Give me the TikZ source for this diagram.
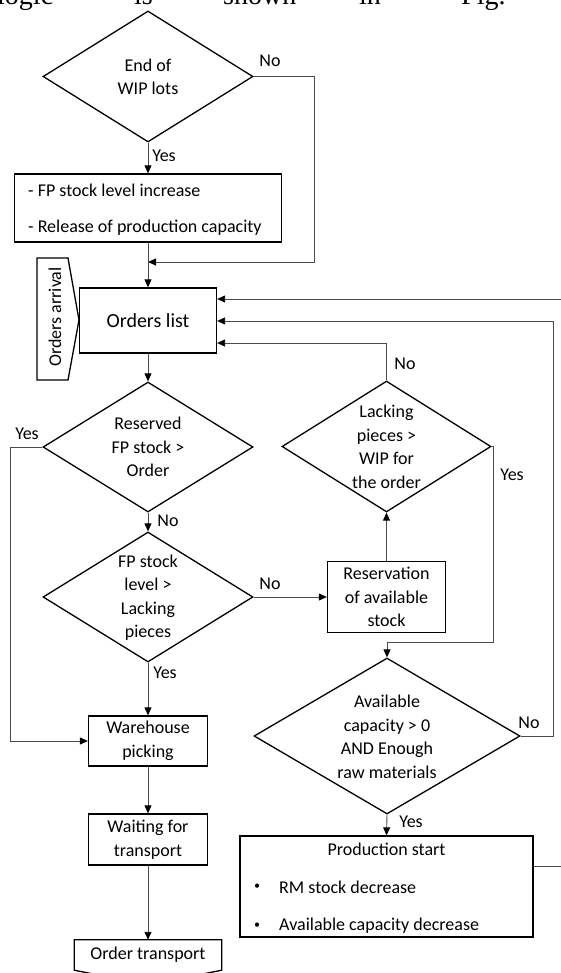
\documentclass[tikz,border=0pt]{standalone}
\usepackage{fontspec}
\setmainfont{Carlito}
\newfontfamily\seriffont{Liberation Serif}
\usetikzlibrary{arrows.meta,shapes.geometric}
\tikzset{
  dia/.style={diamond, draw=black, line width=1.3pt, inner sep=0pt},
  pbox/.style={rectangle, draw=black, line width=1.3pt, inner sep=0pt, align=center,
    font=\fontsize{18}{23.5}\selectfont, text=black},
  txt/.style={font=\fontsize{18}{23.5}\selectfont, align=center, inner sep=0pt, text=black},
  lbl/.style={font=\fontsize{18}{22}\selectfont, inner sep=0pt, text=black},
  dot/.style={font=\fontsize{12}{14}\selectfont, inner sep=0pt, text=black},
  toptext/.style={font=\seriffont\fontsize{28}{30}\selectfont, inner sep=0pt, anchor=base west},
  outline/.style={draw=black, line width=1.3pt, line join=miter},
  conn/.style={draw=black!70, line width=0.9pt},
  arr/.style={conn, -{Triangle[length=8pt,width=7pt,color=black]}},
}
\begin{document}
\begin{tikzpicture}[x=1pt,y=-1pt]
\useasboundingbox (0,0) rectangle (560,973);
\fill[white] (0,0) rectangle (560,973);

% cropped running text at the top
\node[toptext] (w1) at (-3,5) {logic};
\node[toptext] (w2) at (134,5) {is};
\node[toptext] (w3) at (223,5) {shown};
\node[toptext] (w4) at (359,5) {in};
\node[toptext] (w5) at (461,5) {Fig.};

% left column
\node[dia, minimum width=210pt, minimum height=131pt] (d1) at (148,76.5) {};
\node[txt] (d1t) at (148,77) {End of\\WIP lots};

\node[pbox, minimum width=267pt, minimum height=68pt] (b1) at (148,208) {};
\node[txt, anchor=west] (b1a) at (28,190) {- FP stock level increase};
\node[txt, anchor=west] (b1b) at (28,228) {- Release of production capacity};

\node[pbox, minimum width=137pt, minimum height=65pt, font=\fontsize{20}{24}\selectfont] (ol) at (148,320.5) {Orders list};

\draw[outline] (37,258) -- (68,258) -- (79,320) -- (68,380) -- (37,380) -- cycle;
\node[txt, rotate=90] (oa) at (55,317) {Orders arrival};

\node[dia, minimum width=210pt, minimum height=130pt] (d2) at (148,447) {};
\node[txt] (d2t) at (148,447) {Reserved\\FP stock >\\Order};

\node[dia, minimum width=210pt, minimum height=130pt] (d3) at (148,597) {};
\node[txt] (d3t) at (148,597.5) {FP stock\\level >\\Lacking\\pieces};

\node[pbox, minimum width=119pt, minimum height=50pt] (wh) at (148,741) {Warehouse\\picking};
\node[pbox, minimum width=119pt, minimum height=51pt] (wt) at (148,839.5) {Waiting for\\transport};

\node[txt, minimum width=147pt, minimum height=30pt] (ot) at (148,955) {Order transport};
\draw[outline] (ot.south west) -- (ot.north west) -- (ot.north east) -- (ot.south east) -- (148,985) -- cycle;

% right column
\node[dia, minimum width=209pt, minimum height=131pt] (lack) at (386.5,446.5) {};
\node[txt] (lackt) at (386.5,447) {Lacking\\pieces >\\WIP for\\the order};

\node[pbox, minimum width=118pt, minimum height=71pt] (res) at (386.5,597) {Reservation\\of available\\stock};

\node[dia, minimum width=266pt, minimum height=156pt] (av) at (387,736) {};
\node[txt] (avt) at (387,737) {Available\\capacity > 0\\AND Enough\\raw materials};

\node[pbox, minimum width=293pt, minimum height=101pt] (pr) at (386.5,886.5) {};
\node[txt] (prt) at (386.5,849) {Production start};
\node[dot] (pb1) at (257,887) {\textbullet};
\node[txt, anchor=west] (pr1) at (279,887) {RM stock decrease};
\node[dot] (pb2) at (257,926) {\textbullet};
\node[txt, anchor=west] (pr2) at (279,926) {Available capacity decrease};

% connector corners
\coordinate (c1) at (314,262);
\coordinate (mrg) at (148,262);
\coordinate (c2) at (10,741);
\coordinate (c3) at (386.5,343);
\coordinate (c4) at (493,642);
\coordinate (c5) at (553,321);
\coordinate (c6a) at (566,866);
\coordinate (c6) at (566,299);

% connectors
\draw[arr] (d1.south) -- (b1.north);
\draw[arr] (d1.east) -| (c1) -- (mrg);
\draw[arr] (b1.south) -- (ol.north);
\draw[arr] (ol.south) -- (d2.north);
\draw[arr] (d2.west) -| (c2) -- (wh.west);
\draw[arr] (d2.south) -- (d3.north);
\draw[arr] (d3.east) -- (res.west);
\draw[arr] (d3.south) -- (wh.north);
\draw[arr] (res.north) -- (lack.south);
\draw[arr] (lack.north) -- (c3) -- (ol.east |- c3);
\draw[arr] (lack.east) -| (c4) -| (av.north);
\draw[arr] (av.east) -| (c5) -- (ol.east |- c5);
\draw[arr] (av.south) -- (pr.north);
\draw[arr] (pr.east |- c6a) -- (c6a) -- (c6) -- (ol.east |- c6);
\draw[arr] (wh.south) -- (wt.north);
\draw[arr] (wt.south) -- (ot.north);

% labels
\node[lbl] (l1) at (270,61) {No};
\node[lbl] (l2) at (164,156) {Yes};
\node[lbl] (l3) at (27,434) {Yes};
\node[lbl] (l4) at (168,521) {No};
\node[lbl] (l5) at (270,584) {No};
\node[lbl] (l6) at (165,673) {Yes};
\node[lbl] (l7) at (405,364) {No};
\node[lbl] (l8) at (512,475) {Yes};
\node[lbl] (l9) at (529,723) {No};
\node[lbl] (l10) at (411,822) {Yes};
\end{tikzpicture}
\end{document}
